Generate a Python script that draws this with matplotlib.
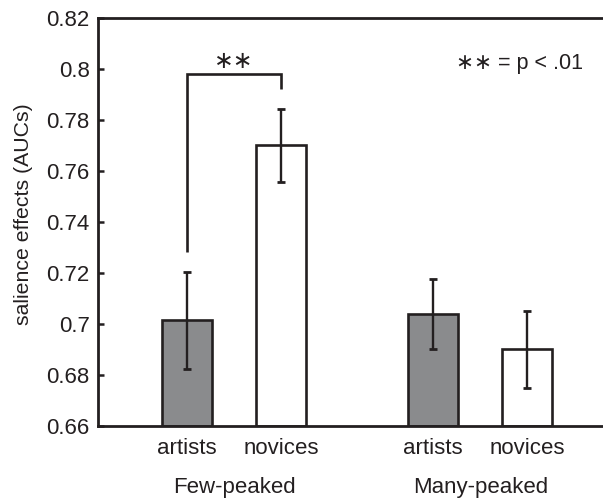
import numpy as np
import matplotlib
matplotlib.use("Agg")
import matplotlib.pyplot as plt

plt.rcParams['font.family'] = ['Liberation Sans', 'DejaVu Sans']

# AUC salience effects, mean and error half-width
groups = ["Few-peaked", "Many-peaked"]
subjects = ["artists", "novices", "artists", "novices"]
means = [0.7015, 0.770, 0.704, 0.690]
errs = [0.0190, 0.0142, 0.0137, 0.0151]
fills = ["#8a8b8d", "white", "#8a8b8d", "white"]

ink = "#231f20"
pos = np.array([0, 1, 2.62, 3.62])

fig = plt.figure(figsize=(6.03, 4.98), dpi=100)
ax = fig.add_axes([0.1625, 0.1446, 0.8375, 0.8193])

ax.bar(pos, np.array(means) - 0.66, bottom=0.66, width=0.53, color=fills,
       edgecolor=ink, linewidth=1.9, zorder=2)
ax.errorbar(pos, means, yerr=errs, fmt="none", ecolor=ink, elinewidth=1.7,
            capsize=3, capthick=2.0, zorder=3)

# significance bracket over the few-peaked pair
ax.plot([pos[0], pos[0], pos[1], pos[1]], [0.7284, 0.7979, 0.7979, 0.7920],
        color=ink, linewidth=1.9, solid_capstyle="butt", solid_joinstyle="miter")
ax.text((pos[0] + pos[1]) / 2, 0.7985, "∗∗", ha="center", va="bottom",
        fontsize=17, color=ink, family=["DejaVu Sans"])
ax.text(3.54, 0.8022, "∗∗ = p < .01", ha="center", va="center", fontsize=15.5,
        color=ink)

ax.set_ylim(0.66, 0.82)
ax.set_xlim(-0.947, 4.426)
ax.set_yticks(np.arange(0.66, 0.8201, 0.02))
ax.set_yticklabels(["0.66", "0.68", "0.7", "0.72", "0.74", "0.76", "0.78", "0.8", "0.82"])
ax.set_xticks(pos)
ax.set_xticklabels(subjects)
ax.tick_params(axis="y", direction="in", length=4, width=1.8, labelsize=16,
               colors=ink, pad=6)
ax.tick_params(axis="x", length=0, labelsize=16, colors=ink, pad=9)
ax.set_ylabel("salience effects (AUCs)", fontsize=15.3, color=ink)
ax.yaxis.set_label_coords(-0.128, 0.52)

for side in ["left", "top", "bottom"]:
    ax.spines[side].set_linewidth(2.0)
    ax.spines[side].set_color(ink)
ax.spines["right"].set_visible(False)

for i, g in enumerate(groups):
    ax.text(pos[2 * i:2 * i + 2].mean(), -0.15, g, transform=ax.get_xaxis_transform(),
            ha="center", va="center", fontsize=16, color=ink)

fig.savefig("out.png", dpi=100)
